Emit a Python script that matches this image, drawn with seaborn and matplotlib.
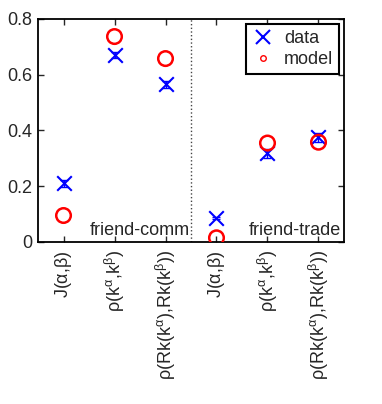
import numpy as np
import pandas as pd
import matplotlib
matplotlib.use("Agg")
import matplotlib.pyplot as plt
import seaborn as sns

# measures, two network pairs
labels = [r"J($\alpha$,$\beta$)",
          r"$\rho$(k$^{\alpha}$,k$^{\beta}$)",
          r"$\rho$(Rk(k$^{\alpha}$),Rk(k$^{\beta}$))"] * 2
groups = ["friend-comm", "friend-trade"]
data_vals = [0.21, 0.67, 0.565, 0.085, 0.318, 0.375]
data_err = [0.012, 0.01, 0.012, 0.004, 0.015, 0.015]
model_vals = [0.095, 0.737, 0.658, 0.015, 0.355, 0.358]

sns.set_style("ticks")
plt.rcParams["font.family"] = ["Liberation Sans", "DejaVu Sans"]
plt.rcParams["mathtext.fontset"] = "custom"
plt.rcParams["mathtext.rm"] = "Liberation Sans"
plt.rcParams["mathtext.it"] = "Liberation Sans"

pos = np.arange(1, len(labels) + 1)
df = pd.DataFrame({"pos": pos, "data": data_vals, "err": data_err, "model": model_vals})

fig = plt.figure(figsize=(3.82, 4.04), dpi=100)
ax = fig.add_axes([0.0995, 0.401, 0.801, 0.552])

ax.errorbar(df["pos"], df["data"], yerr=df["err"], fmt="none", ecolor="blue",
            elinewidth=1.0, capsize=3, capthick=1.0)
sns.scatterplot(data=df, x="pos", y="data", marker="x", s=110, color="blue",
                linewidth=1.5, ax=ax, legend=False, zorder=3)
sns.scatterplot(data=df, x="pos", y="model", marker="o", s=110, facecolor="none",
                edgecolor="red", linewidth=1.8, ax=ax, legend=False, zorder=4)

ax.axvline(3.5, color="#444444", linestyle=":", linewidth=1)

ax.set_xlim(0.5, 6.5)
ax.set_ylim(0, 0.8)
ax.set_yticks([0, 0.2, 0.4, 0.6, 0.8])
ax.set_yticklabels(["0", "0.2", "0.4", "0.6", "0.8"])
ax.set_xticks(pos)
ax.set_xticklabels(labels, rotation=90)
ax.set_xlabel("")
ax.set_ylabel("")
ax.tick_params(direction="in", top=True, right=True, labelsize=13, length=4, width=1)
ax.tick_params(axis="x", pad=6)
ax.tick_params(axis="y", pad=4)
for sp in ax.spines.values():
    sp.set_linewidth(1.3)
    sp.set_color("black")

ax.text(3.48, 0.01, groups[0], ha="right", va="bottom", fontsize=13)
ax.text(6.45, 0.01, groups[1], ha="right", va="bottom", fontsize=13)

h1 = plt.Line2D([], [], marker="x", color="blue", linestyle="none", markersize=10, markeredgewidth=1.5)
h2 = plt.Line2D([], [], marker="o", markerfacecolor="none", markeredgecolor="red",
                linestyle="none", markersize=4, markeredgewidth=1)
leg = ax.legend([h1, h2], ["data", "model"], loc="upper right", fontsize=13,
                fancybox=False, framealpha=1, edgecolor="black",
                handlelength=1.3, handletextpad=0.5, borderpad=0.3, labelspacing=0.25,
                borderaxespad=0.3)
leg.get_frame().set_linewidth(1.5)

fig.savefig("out.png", dpi=100)
